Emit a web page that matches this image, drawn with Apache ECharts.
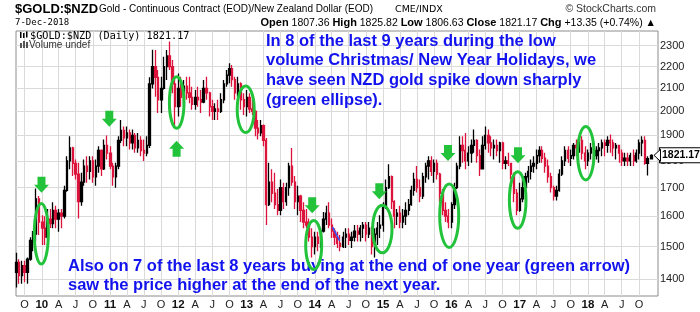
<!DOCTYPE html>
<html><head><meta charset="utf-8">
<script src="https://cdn.jsdelivr.net/npm/echarts@6/dist/echarts.min.js"></script>
<style>html,body{margin:0;padding:0;background:#fff}#c{width:700px;height:312px}</style>
</head><body><div id="c"></div>
<script>
// ---------- DATA (semi-monthly OHLC) ----------
const dates = [
'2009-08-19','2009-09-01','2009-09-16','2009-10-01','2009-10-16','2009-11-02','2009-11-16','2009-12-01','2009-12-16',
'2010-01-04','2010-01-18','2010-02-01','2010-02-16','2010-03-01','2010-03-16','2010-04-01','2010-04-16','2010-05-03','2010-05-17','2010-06-01','2010-06-16','2010-07-01','2010-07-16','2010-08-02','2010-08-16','2010-09-01','2010-09-16','2010-10-01','2010-10-18','2010-11-01','2010-11-16','2010-12-01','2010-12-16',
'2011-01-03','2011-01-17','2011-02-01','2011-02-16','2011-03-01','2011-03-16','2011-04-01','2011-04-18','2011-05-02','2011-05-16','2011-06-01','2011-06-16','2011-07-01','2011-07-18','2011-08-01','2011-08-16','2011-09-01','2011-09-16','2011-10-03','2011-10-17','2011-11-01','2011-11-16','2011-12-01','2011-12-16',
'2012-01-03','2012-01-17','2012-02-01','2012-02-16','2012-03-01','2012-03-16','2012-04-02','2012-04-16','2012-05-01','2012-05-16','2012-06-01','2012-06-18','2012-07-02','2012-07-16','2012-08-01','2012-08-16','2012-09-03','2012-09-17','2012-10-01','2012-10-16','2012-11-01','2012-11-16','2012-12-03','2012-12-17',
'2013-01-02','2013-01-16','2013-02-01','2013-02-18','2013-03-01','2013-03-18','2013-04-01','2013-04-16','2013-05-01','2013-05-16','2013-06-03','2013-06-17','2013-07-01','2013-07-16','2013-08-01','2013-08-16','2013-09-02','2013-09-16','2013-10-01','2013-10-16','2013-11-01','2013-11-18','2013-12-02','2013-12-16',
'2014-01-02','2014-01-16','2014-02-03','2014-02-17','2014-03-03','2014-03-17','2014-04-01','2014-04-16','2014-05-01','2014-05-16','2014-06-02','2014-06-16','2014-07-01','2014-07-16','2014-08-01','2014-08-18','2014-09-01','2014-09-16','2014-10-01','2014-10-16','2014-11-03','2014-11-17','2014-12-01','2014-12-16',
'2015-01-02','2015-01-16','2015-02-02','2015-02-16','2015-03-02','2015-03-16','2015-04-01','2015-04-16','2015-05-01','2015-05-18','2015-06-01','2015-06-16','2015-07-01','2015-07-16','2015-08-03','2015-08-17','2015-09-01','2015-09-16','2015-10-01','2015-10-16','2015-11-02','2015-11-16','2015-12-01','2015-12-16',
'2016-01-04','2016-01-18','2016-02-01','2016-02-16','2016-03-01','2016-03-16','2016-04-01','2016-04-18','2016-05-02','2016-05-16','2016-06-01','2016-06-16','2016-07-01','2016-07-18','2016-08-01','2016-08-16','2016-09-01','2016-09-16','2016-10-03','2016-10-17','2016-11-01','2016-11-16','2016-12-01','2016-12-16',
'2017-01-03','2017-01-16','2017-02-01','2017-02-16','2017-03-01','2017-03-16','2017-04-03','2017-04-17','2017-05-01','2017-05-16','2017-06-01','2017-06-16','2017-07-03','2017-07-17','2017-08-01','2017-08-16','2017-09-01','2017-09-18','2017-10-02','2017-10-16','2017-11-01','2017-11-16','2017-12-01','2017-12-18',
'2018-01-02','2018-01-16','2018-02-01','2018-02-16','2018-03-01','2018-03-16','2018-04-02','2018-04-16','2018-05-01','2018-05-16','2018-06-01','2018-06-18','2018-07-02','2018-07-16','2018-08-01','2018-08-16','2018-09-03','2018-09-17','2018-10-01','2018-10-16','2018-11-01','2018-11-16','2018-12-07'
];
const openP = [
1420,1450,1410,1440,1420,1460,1520,1540,1660,
1580,1560,1530,1590,1575,1620,1590,1610,1600,1690,1800,1850,1790,1750,1650,1720,1780,1760,1800,1740,1780,1840,1770,1860,
1830,1780,1740,1780,1880,1920,1890,1910,1870,1900,1850,1880,1840,1830,1860,2120,2200,2150,2050,2100,2200,2250,2200,2120,
2020,2100,2060,2110,2080,2060,2030,2060,2050,2040,2100,2080,2020,2000,2010,2000,2050,2120,2160,2190,2140,2080,2120,2050,
2020,2060,2010,2000,1930,1910,1940,1880,1640,1720,1680,1640,1620,1700,1650,1700,1780,1720,1650,1670,1620,1580,1570,1530,
1500,1530,1510,1550,1590,1610,1570,1550,1530,1510,1500,1530,1540,1520,1530,1550,1540,1560,1570,1540,1560,1500,1540,1560,
1570,1630,1700,1740,1650,1600,1610,1580,1600,1620,1640,1690,1730,1700,1670,1740,1780,1800,1760,1790,1750,1680,1620,1600,
1580,1640,1700,1780,1860,1840,1800,1830,1860,1880,1820,1770,1860,1900,1870,1850,1860,1840,1870,1790,1800,1790,1750,1680,
1620,1660,1700,1740,1760,1780,1790,1820,1840,1810,1780,1740,1700,1670,1690,1750,1800,1840,1810,1820,1860,1850,1880,1830,
1800,1830,1850,1820,1840,1850,1870,1860,1880,1870,1850,1860,1830,1800,1810,1800,1820,1800,1830,1870,1880,1790,1807.36
];
const highP = [
1480,1460,1455,1455,1465,1530,1550,1697,1670,
1603,1600,1625,1625,1648,1636,1625,1625,1707,1818,1897,1855,1805,1793,1755,1805,1818,1818,1818,1805,1857,1844,1884,1900,
1857,1793,1793,1897,1964,1937,1937,1924,1924,1910,1910,1897,1884,1897,2150,2280,2279,2184,2153,2247,2279,2320,2231,2153,
2168,2153,2138,2153,2153,2108,2093,2108,2093,2138,2153,2085,2050,2035,2050,2078,2138,2184,2215,2207,2153,2153,2128,2078,
2093,2078,2050,2005,1964,1964,1945,1890,1793,1768,1755,1695,1730,1718,1718,1793,1850,1743,1707,1675,1648,1625,1592,1559,
1548,1548,1559,1614,1636,1648,1592,1559,1548,1537,1548,1559,1559,1548,1570,1570,1570,1580,1580,1580,1565,1559,1580,1603,
1648,1730,1787,1745,1655,1625,1636,1625,1648,1660,1707,1755,1780,1730,1755,1793,1818,1818,1805,1805,1755,1695,1648,1625,
1648,1718,1793,1897,1897,1910,1857,1884,1924,1885,1844,1897,1937,1924,1897,1884,1884,1875,1875,1818,1831,1793,1755,1695,
1718,1730,1755,1780,1805,1818,1844,1857,1857,1831,1805,1755,1707,1707,1768,1818,1857,1857,1844,1870,1884,1897,1897,1857,
1844,1870,1870,1857,1870,1884,1884,1897,1904,1884,1870,1862,1844,1831,1831,1831,1844,1844,1884,1897,1897,1818,1825.82
];
const lowP = [
1375,1386,1386,1390,1386,1455,1485,1516,1537,
1505,1505,1525,1560,1559,1559,1548,1559,1592,1685,1768,1743,1730,1592,1636,1707,1718,1730,1718,1707,1755,1743,1765,1805,
1768,1707,1700,1768,1870,1857,1857,1844,1844,1831,1831,1818,1799,1818,1850,2100,2063,1993,1993,2095,2138,2184,2078,1937,
1978,2020,2035,2050,2035,2007,2007,2020,1993,2035,2050,1978,1964,1964,1964,1993,2035,2108,2123,2108,2050,2063,2007,1985,
1978,1993,1985,1897,1884,1897,1857,1570,1635,1648,1625,1603,1603,1625,1636,1671,1707,1625,1603,1580,1559,1559,1516,1465,
1475,1485,1495,1545,1570,1559,1527,1505,1495,1485,1495,1495,1505,1495,1516,1516,1516,1527,1516,1527,1475,1465,1505,1527,
1548,1625,1695,1625,1559,1570,1559,1559,1570,1603,1636,1671,1683,1648,1660,1718,1730,1743,1718,1730,1648,1603,1580,1559,
1559,1625,1695,1768,1793,1768,1780,1793,1831,1793,1743,1768,1844,1831,1818,1805,1818,1793,1768,1768,1780,1730,1648,1603,
1615,1648,1695,1718,1730,1755,1768,1793,1793,1755,1718,1683,1654,1654,1685,1743,1780,1793,1780,1805,1818,1831,1805,1768,
1780,1805,1793,1805,1793,1818,1818,1831,1831,1818,1805,1793,1780,1780,1780,1780,1780,1793,1805,1818,1785,1745,1806.63
];
const closeP = [
1450,1410,1440,1420,1460,1520,1540,1660,1580,
1560,1530,1590,1575,1620,1590,1610,1600,1690,1800,1850,1790,1750,1650,1720,1780,1760,1800,1740,1780,1840,1770,1860,1830,
1780,1740,1780,1880,1920,1890,1910,1870,1900,1850,1880,1840,1830,1860,2120,2200,2150,2050,2100,2200,2250,2200,2120,2020,
2100,2060,2110,2080,2060,2030,2060,2050,2040,2100,2080,2020,2000,2010,2000,2050,2120,2160,2190,2140,2080,2120,2050,2020,
2060,2010,2000,1930,1910,1940,1880,1640,1720,1680,1640,1620,1700,1650,1700,1780,1720,1650,1670,1620,1580,1570,1530,1500,
1530,1510,1550,1590,1610,1570,1550,1530,1510,1500,1530,1540,1520,1530,1550,1540,1560,1570,1540,1560,1500,1540,1560,1570,
1630,1700,1740,1650,1600,1610,1580,1600,1620,1640,1690,1730,1700,1670,1740,1780,1800,1760,1790,1750,1680,1620,1600,1580,
1640,1700,1780,1860,1840,1800,1830,1860,1880,1820,1770,1860,1900,1870,1850,1860,1840,1870,1790,1800,1790,1750,1680,1620,
1660,1700,1740,1760,1780,1790,1820,1840,1810,1780,1740,1700,1670,1690,1750,1800,1840,1810,1820,1860,1850,1880,1830,1800,
1830,1850,1820,1840,1850,1870,1860,1880,1870,1850,1860,1830,1800,1810,1800,1820,1800,1830,1870,1880,1790,1808,1821.17
];
const blueSegDates = ['2014-04-06','2014-05-14'];
const blueSegValues = [1563, 1518];
const yTicks = [1400,1500,1600,1700,1800,1900,2000,2100,2200,2300];
const xTickDates = ['2009-10-01',
'2010-01-01','2010-04-01','2010-07-01','2010-10-01','2011-01-01','2011-04-01','2011-07-01','2011-10-01',
'2012-01-01','2012-04-01','2012-07-01','2012-10-01','2013-01-01','2013-04-01','2013-07-01','2013-10-01',
'2014-01-01','2014-04-01','2014-07-01','2014-10-01','2015-01-01','2015-04-01','2015-07-01','2015-10-01',
'2016-01-01','2016-04-01','2016-07-01','2016-10-01','2017-01-01','2017-04-01','2017-07-01','2017-10-01',
'2018-01-01','2018-04-01','2018-07-01','2018-10-01'];
const xTickLabels = ['O','10','A','J','O','11','A','J','O','12','A','J','O','13','A','J','O',
'14','A','J','O','15','A','J','O','16','A','J','O','17','A','J','O','18','A','J','O'];
const lastClose = 1821.17;
const headerQuote = {open:'1807.36', high:'1825.82', low:'1806.63', close:'1821.17', chg:'+13.35 (+0.74%)'};
const xRange = ['2009-08-16','2019-01-11'];
const yRange = [1350, 2373];

// ---------- CHART ----------
const ts = d => echarts.time.parse(d).getTime();
const FONT = '"Liberation Sans", Arial, sans-serif';
const GREEN = '#22c33b', BLUE = '#1212ee', RED = '#dc143c';
const chart = echarts.init(document.getElementById('c'), null, {renderer:'canvas', width:700, height:312});

const candles = dates.map((d, i) => [ts(d), openP[i], closeP[i], lowP[i], highP[i]]);

const markData = [];
xTickDates.forEach((d, i) => {
  const lab = xTickLabels[i];
  markData.push({xAxis: ts(d), label: {show: true, position: 'start', distance: 3,
    align: 'center', verticalAlign: 'top',
    formatter: /^\d+$/.test(lab) ? '{y|' + lab + '}' : lab,
    fontFamily: FONT, fontSize: 11, color: '#222',
    rich: {y: {fontWeight: 'bold', fontSize: 11.5, color: '#111', fontFamily: FONT}}}});
});
yTicks.forEach(v => {
  markData.push({yAxis: v, label: {show: true, position: 'end', distance: 2, align: 'left',
    verticalAlign: 'middle', formatter: String(v), fontFamily: FONT, fontSize: 11, color: '#222'}});
});

const lastLine = {silent: true, symbol: ['none', 'none'], z: 6, animation: false,
  lineStyle: {color: 'rgba(0,0,0,0)', width: 0},
  emphasis: {disabled: true},
  data: [{yAxis: lastClose, label: {show: true, position: 'end', distance: 2,
    align: 'left', verticalAlign: 'middle', formatter: lastClose.toFixed(2), fontFamily: FONT, fontSize: 10.5,
    fontWeight: 'bold', color: '#000', backgroundColor: '#fff', borderColor: '#000', borderWidth: 1,
    padding: [2, 1, 1, 2]}}]};

function downArrow(cx, y0) {
  return {type: 'polygon', z: 100, shape: {points: [[cx-4,y0],[cx+4,y0],[cx+4,y0+8],[cx+7.5,y0+8],[cx,y0+16],[cx-7.5,y0+8],[cx-4,y0+8]]},
    style: {fill: GREEN}};
}
function upArrow(cx, y0) {
  return {type: 'polygon', z: 100, shape: {points: [[cx,y0],[cx+7.5,y0+8],[cx+4,y0+8],[cx+4,y0+16],[cx-4,y0+16],[cx-4,y0+8],[cx-7.5,y0+8]]},
    style: {fill: GREEN}};
}
function ell(cx, cy, rx, ry) {
  return {type: 'ellipse', z: 100, shape: {cx, cy, rx, ry}, style: {fill: 'none', stroke: GREEN, lineWidth: 3}};
}
function txt(x, y, text, font, extra) {
  return {type: 'text', z: 100, x, y, style: Object.assign({text, font, fill: '#000', verticalAlign: 'middle'}, extra || {})};
}

const graphics = [
  txt(15, 9, '$GOLD:$NZD', 'bold 13px "Liberation Sans", Arial'),
  txt(99, 9.5, 'Gold - Continuous Contract (EOD)/New Zealand Dollar (EOD)', '10px "Liberation Sans", Arial'),
  txt(395, 9.5, 'CME/INDX', '9.5px "DejaVu Sans"'),
  txt(656, 9.5, '\u00A9 StockCharts.com', '10.5px "Liberation Sans", Arial', {align: 'right', fill: '#333'}),
  txt(15, 23, '7-Dec-2018', '9px "DejaVu Sans Mono"'),
  {type: 'text', z: 100, x: 656, y: 23, style: {
    text: '{b|Open} ' + headerQuote.open + ' {b|High} ' + headerQuote.high + ' {b|Low} ' + headerQuote.low +
          ' {b|Close} ' + headerQuote.close + ' {b|Chg} ' + headerQuote.chg + ' \u25B2',
    font: '10.5px "Liberation Sans", Arial', fill: '#000', align: 'right', verticalAlign: 'middle',
    rich: {b: {fontWeight: 'bold', fontSize: 11, fontFamily: FONT, fill: '#000'}}}},
  {type: 'rect', z: 100, shape: {x: 20, y: 32, width: 1.5, height: 6}, style: {fill: '#000'}},
  {type: 'rect', z: 100, shape: {x: 23, y: 33, width: 1.5, height: 5}, style: {fill: '#000'}},
  {type: 'rect', z: 100, shape: {x: 26, y: 31.5, width: 1.5, height: 6}, style: {fill: '#000'}},
  txt(30, 36, '$GOLD:$NZD (Daily) 1821.17', '10.2px "DejaVu Sans Mono"'),
  {type: 'rect', z: 100, shape: {x: 20, y: 43, width: 2, height: 5}, style: {fill: '#555'}},
  {type: 'rect', z: 100, shape: {x: 23, y: 41, width: 2, height: 7}, style: {fill: '#555'}},
  {type: 'rect', z: 100, shape: {x: 26, y: 42, width: 2, height: 6}, style: {fill: '#555'}},
  txt(29, 45.5, 'Volume undef', '10px "Liberation Sans", Arial', {fill: '#333'}),
  txt(266, 41, 'In 8 of the last 9 years during the low', 'bold 16.5px "Liberation Sans", Arial', {fill: BLUE}),
  txt(266, 60.7, 'volume Christmas/ New Year Holidays, we', 'bold 16.5px "Liberation Sans", Arial', {fill: BLUE}),
  txt(266, 80.4, 'have seen NZD gold spike down sharply', 'bold 16.5px "Liberation Sans", Arial', {fill: BLUE}),
  txt(266, 100.1, '(green ellipse).', 'bold 16.5px "Liberation Sans", Arial', {fill: BLUE}),
  txt(68, 266, 'Also on 7 of the last 8 years buying at the end of one year (green arrow)', 'bold 16.5px "Liberation Sans", Arial', {fill: BLUE}),
  txt(68, 285.8, 'saw the price higher at the end of the next year.', 'bold 16.5px "Liberation Sans", Arial', {fill: BLUE}),
  ell(41.3, 233.7, 7, 30.3),
  ell(176.7, 102.5, 7.3, 25.8),
  ell(245.7, 109.3, 8.5, 23.3),
  ell(313.7, 245, 8, 24.5),
  ell(382.3, 229, 9.7, 23.8),
  ell(449.2, 215.7, 9.5, 31.7),
  ell(517.7, 200, 8.3, 28.3),
  ell(585.8, 153.3, 8.2, 26.7),
  downArrow(41.5, 176.7),
  downArrow(109.3, 110.7),
  downArrow(312.2, 197.3),
  downArrow(379.3, 183.3),
  downArrow(448, 145),
  downArrow(518, 147.3),
  upArrow(176.6, 140.7)
];

const option = {
  animation: false,
  backgroundColor: '#fff',
  grid: {left: 16, right: 42, top: 31, bottom: 16, show: true, borderColor: '#8c8c8c', borderWidth: 1, backgroundColor: 'transparent'},
  xAxis: {type: 'time', min: ts(xRange[0]), max: ts(xRange[1]),
    axisLine: {show: false}, axisTick: {show: false}, axisLabel: {show: false}, splitLine: {show: false}},
  yAxis: {type: 'log', logBase: 10, min: yRange[0], max: yRange[1], position: 'right',
    axisLine: {show: false}, axisTick: {show: false}, axisLabel: {show: false}, splitLine: {show: false}},
  series: [
    {type: 'candlestick', data: candles, barWidth: 1.8, z: 3,
      itemStyle: {color: '#000', color0: RED, borderColor: '#000', borderColor0: RED, borderWidth: 1.3},
      markLine: {silent: true, symbol: ['none', 'none'], z: 1, animation: false,
        lineStyle: {color: '#dadada', width: 1, type: 'solid'},
        emphasis: {disabled: true}, data: markData}},
    {type: 'line', data: blueSegDates.map((d, i) => [ts(d), blueSegValues[i]]), symbol: 'none', z: 4,
      lineStyle: {color: '#2f54ff', width: 1.5}, silent: true, markLine: lastLine}
  ],
  graphic: {elements: graphics}
};
chart.setOption(option);

const yLast = chart.convertToPixel({yAxisIndex: 0}, lastClose);
chart.setOption({graphic: {elements: [{type: 'polygon', id: 'ptr', z: 100,
  shape: {points: [[654, yLast], [660.5, yLast - 6], [660.5, yLast + 6]]},
  style: {fill: '#fff', stroke: '#000', lineWidth: 1}}]}});
</script>
</body></html>
